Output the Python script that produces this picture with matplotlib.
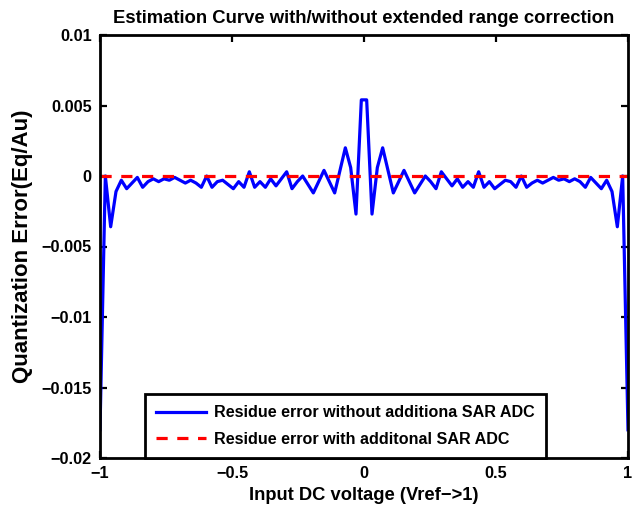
import numpy as np
import matplotlib
matplotlib.use('Agg')
import matplotlib.pyplot as plt

plt.rcParams['font.family'] = ['Liberation Sans', 'DejaVu Sans']
plt.rcParams['font.weight'] = 'bold'

# Input DC voltage, 100 samples from -1 to 1
n_points = 100
x_vals = np.linspace(-1, 1, n_points)

# Residue error without additional SAR ADC (left to right)
residue_without = [
    -0.0180, 0.0000, -0.0036, -0.0011, -0.0003, -0.0009, -0.0005, -0.0001, -0.0008, -0.0004,
    -0.0002, -0.0004, -0.0002, -0.0003, -0.0001, -0.0003, -0.0005, -0.0003, -0.0005, -0.0008,
    0.0000, -0.0008, -0.0004, -0.0003, -0.0006, -0.0009, -0.0004, -0.0008, 0.0003, -0.0008,
    -0.0004, -0.0008, -0.0002, -0.0007, -0.0002, 0.0003, -0.0009, -0.0004, 0.0000, -0.0006,
    -0.0012, -0.0004, 0.0004, -0.0004, -0.0012, 0.0004, 0.0020, 0.0006, -0.0027, 0.0054,
    0.0054, -0.0027, 0.0006, 0.0020, 0.0004, -0.0012, -0.0004, 0.0004, -0.0004, -0.0012,
    -0.0006, 0.0000, -0.0004, -0.0009, 0.0003, -0.0002, -0.0007, -0.0002, -0.0008, -0.0004,
    -0.0008, 0.0003, -0.0008, -0.0004, -0.0009, -0.0006, -0.0003, -0.0004, -0.0008, 0.0000,
    -0.0008, -0.0005, -0.0003, -0.0005, -0.0003, -0.0001, -0.0003, -0.0002, -0.0004, -0.0002,
    -0.0004, -0.0008, -0.0001, -0.0005, -0.0009, -0.0003, -0.0011, -0.0036, 0.0000, -0.0180,
]

# Residue error with additional SAR ADC
residue_with = [0.0] * n_points

x_ticks = [-1, -0.5, 0, 0.5, 1]
y_ticks = [0.01, 0.005, 0, -0.005, -0.01, -0.015, -0.02]

fig = plt.figure(figsize=(6.33, 5.05), dpi=100, facecolor='white')
ax = fig.add_axes([100 / 633, 1 - 458 / 505, 528 / 633, 423 / 505])

ax.plot(x_vals, residue_without, color='#0000ff', lw=2.3,
        label='Residue error without additiona SAR ADC')
ax.plot(x_vals, residue_with, color='#ff0000', lw=2.3, ls=(0, (3.5, 3)),
        label='Residue error with additonal SAR ADC')

ax.set_xlim(-1, 1)
ax.set_ylim(-0.02, 0.01)
ax.set_xticks(x_ticks)
ax.set_xticklabels(['\u22121', '\u22120.5', '0', '0.5', '1'])
ax.set_yticks(y_ticks)
ax.set_yticklabels(['0.01', '0.005', '0', '\u22120.005', '\u22120.01', '\u22120.015', '\u22120.02'])

ax.tick_params(direction='in', top=True, right=True, length=5, width=1.6,
               labelsize=11.7, pad=6)
for spine in ax.spines.values():
    spine.set_linewidth(2)

ax.set_title('Estimation Curve with/without extended range correction',
             fontsize=13.3, fontweight='bold', pad=9)
ax.set_xlabel('Input DC voltage (Vref\u2212>1)', fontsize=13.2, fontweight='bold', labelpad=4)
ax.set_ylabel('Quantization Error(Eq/Au)', fontsize=16, fontweight='bold', labelpad=6)

leg = ax.legend(loc='lower left', bbox_to_anchor=(0.085, 0.0), borderaxespad=0,
                fontsize=11.6, fancybox=False, framealpha=1, edgecolor='black',
                handlelength=3.1, handletextpad=0.5, borderpad=0.7, labelspacing=0.7)
leg.get_frame().set_linewidth(2)

plt.savefig('out.png', dpi=100)
